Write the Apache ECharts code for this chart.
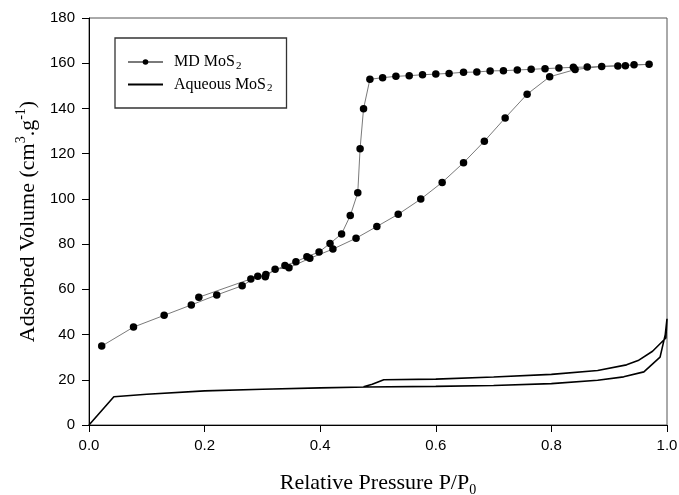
<!DOCTYPE html>
<html>
<head>
<meta charset="utf-8">
<script src="https://cdn.jsdelivr.net/npm/echarts@6/dist/echarts.min.js"></script>
<style>html,body{margin:0;padding:0;background:#fff}#c{width:679px;height:495px}</style>
</head>
<body>
<div id="c"></div>
<script>
// MD MoS2: adsorption branch then desorption branch (P/P0, volume)
const mdAdsX = [0.022,0.077,0.130,0.177,0.221,0.265,0.292,0.305,0.322,0.346,0.382,0.422,0.462,0.498,0.535,0.574,0.611,0.648,0.684,0.720,0.758,0.797,0.841,0.887,0.969];
const mdAdsY = [34.9,43.3,48.5,53.1,57.5,61.6,65.8,65.6,68.9,69.6,73.7,77.8,82.6,87.8,93.2,99.9,107.3,116.0,125.5,135.8,146.3,154.0,157.2,158.6,159.5];
const mdDesX = [0.943,0.928,0.915,0.862,0.838,0.813,0.789,0.765,0.741,0.717,0.694,0.671,0.648,0.623,0.600,0.577,0.554,0.531,0.508,0.486,0.475,0.469,0.465,0.452,0.437,0.417,0.398,0.377,0.358,0.339,0.306,0.280,0.190];
const mdDesY = [159.3,158.9,158.8,158.3,158.2,157.9,157.6,157.3,157.0,156.7,156.6,156.1,156.0,155.5,155.2,154.9,154.5,154.2,153.6,152.9,139.9,122.2,102.7,92.6,84.5,80.3,76.5,74.4,72.2,70.5,66.6,64.6,56.5];
// Aqueous MoS2: adsorption then desorption
const aqAdsX = [0,0.043,0.1,0.2,0.3,0.4,0.48,0.6,0.7,0.8,0.88,0.925,0.96,0.988,0.997,1.0];
const aqAdsY = [0,12.5,13.6,15.1,15.8,16.4,16.8,17.1,17.5,18.3,19.8,21.3,23.5,30.0,40.0,47.0];
const aqDesX = [0.998,0.975,0.95,0.93,0.88,0.8,0.7,0.6,0.51,0.49,0.475];
const aqDesY = [38.5,32.6,28.5,26.6,24.1,22.4,21.2,20.3,20.0,18.0,16.9];
const seriesNames = ['MD MoS2','Aqueous MoS2'];
const xTicks = {min:0,max:1,interval:0.2};
const yTicks = {min:0,max:180,interval:20};

function zip(xs, ys){ return xs.map((x,i)=>[x, ys[i]]); }
const mdData = zip(mdAdsX, mdAdsY).concat(zip(mdDesX, mdDesY));
const aqData = zip(aqAdsX, aqAdsY).concat(zip(aqDesX, aqDesY));

const serif = '"Liberation Serif","Times New Roman",serif';
const sans = '"Liberation Sans",Arial,sans-serif';

const chart = echarts.init(document.getElementById('c'), null, {renderer:'canvas'});
chart.setOption({
  animation:false,
  backgroundColor:'#fff',
  grid:{left:89,right:12,top:18,bottom:70,show:true,borderColor:'#555',borderWidth:1,backgroundColor:'transparent',
        containLabel:false,outerBoundsMode:'none'},
  legend:{
    orient:'vertical',left:115,top:38,
    padding:[16,14,14,12],itemGap:5,itemWidth:35,itemHeight:7,
    borderColor:'#333',borderWidth:1.3,
    data:[{name:seriesNames[0]},{name:seriesNames[1],itemStyle:{opacity:0}}],
    formatter:function(n){ return n==='MD MoS2' ? '{a|MD MoS}{sub|2}' : '{a|Aqueous MoS}{sub|2}'; },
    textStyle:{fontFamily:serif,color:'#000',fontSize:16,
      rich:{a:{fontFamily:serif,fontSize:16,color:'#000',lineHeight:19,verticalAlign:'middle',padding:[0,0,0,6]},
            sub:{fontFamily:serif,fontSize:11,color:'#000',lineHeight:19,verticalAlign:'bottom',padding:[0,0,0,1]}}}
  },
  xAxis:{
    type:'value',min:xTicks.min,max:xTicks.max,interval:xTicks.interval,
    name:'{a|Relative Pressure P/P}{sub|0}',nameLocation:'middle',nameGap:44,
    nameTextStyle:{rich:{a:{fontFamily:serif,fontSize:22,color:'#000',lineHeight:28,verticalAlign:'middle'},
                         sub:{fontFamily:serif,fontSize:14,color:'#000',lineHeight:28,verticalAlign:'bottom'}}},
    axisLine:{show:true,lineStyle:{color:'#000',width:1}},
    axisTick:{show:true,inside:false,length:7,lineStyle:{color:'#000'}},
    axisLabel:{fontFamily:sans,fontSize:15,color:'#000',margin:13,formatter:v=>v.toFixed(1)},
    splitLine:{show:false}
  },
  yAxis:{
    type:'value',min:yTicks.min,max:yTicks.max,interval:yTicks.interval,
    name:'{a|Adsorbed Volume (cm}{sup|3}{a|.g}{sup|-1}{a|)}',nameLocation:'middle',nameGap:43,nameRotate:90,
    nameTextStyle:{rich:{a:{fontFamily:serif,fontSize:22,color:'#000',lineHeight:28,verticalAlign:'middle'},
                         sup:{fontFamily:serif,fontSize:14,color:'#000',lineHeight:28,verticalAlign:'top'}}},
    axisLine:{show:true,lineStyle:{color:'#000',width:1}},
    axisTick:{show:true,inside:false,length:7,lineStyle:{color:'#000'}},
    axisLabel:{fontFamily:sans,fontSize:15,color:'#000',margin:14},
    splitLine:{show:false}
  },
  series:[
    {name:seriesNames[0],type:'line',data:mdData,symbol:'circle',symbolSize:7.5,showSymbol:true,
     itemStyle:{color:'#000'},lineStyle:{color:'#7a7a7a',width:1},z:3},
    {name:seriesNames[1],type:'line',data:aqData,symbol:'none',showSymbol:false,
     itemStyle:{color:'#000'},lineStyle:{color:'#000',width:1.6},z:2}
  ]
});
</script>
</body>
</html>
